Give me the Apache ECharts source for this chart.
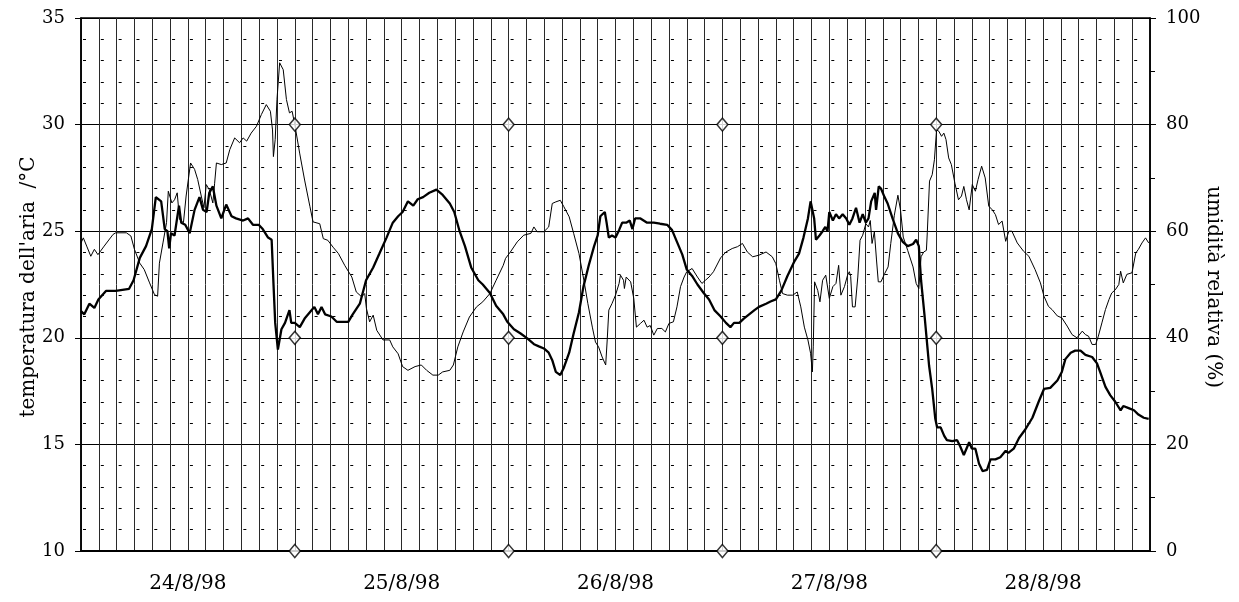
<!DOCTYPE html>
<html>
<head>
<meta charset="utf-8">
<script src="https://cdn.jsdelivr.net/npm/echarts@6/dist/echarts.min.js"></script>
<style>
html,body{margin:0;padding:0;background:#fff;}
#chart{width:1239px;height:602px;}
</style>
</head>
<body>
<div id="chart"></div>
<script>
// hours from 24/8/98 00:00
const dayLabels = ['24/8/98','25/8/98','26/8/98','27/8/98','28/8/98'];
const tempTicks = [10,15,20,25,30,35];
const humTicks = [0,20,40,60,80,100];
const leftTitle = "temperatura dell'aria  /°C";
const rightTitle = 'umidità relativa (%)';

const tempHours = [0,0.37,0.94,1.5,1.95,2.8,3.9,5.4,5.9,6.6,7.3,7.95,8.4,9.0,9.4,9.7,9.9,10.1,10.5,11.0,11.25,11.7,12.2,12.75,13.3,13.7,14.1,14.4,14.8,15.2,15.75,16.3,16.9,17.4,18.2,18.75,19.3,19.95,20.4,21.0,21.4,21.6,21.8,22.1,22.5,22.9,23.4,23.6,
24,24.56,25.1,25.9,26.2,26.6,27.0,27.4,28.1,28.7,29.4,30.0,30.5,31.3,32.0,32.8,33.5,34.3,35.0,35.6,36.1,36.7,37.3,37.8,38.4,39.1,39.9,40.6,41.4,41.9,42.5,43.1,43.8,44.6,45.1,45.9,46.6,47.4,
47.85,48.6,49.35,50.1,50.85,51.4,51.96,52.5,52.9,53.3,53.8,54.2,54.8,55.3,55.9,56.4,57.0,57.6,58.0,58.3,58.8,59.0,59.25,59.6,60.0,60.4,60.75,61.2,61.6,61.9,62.2,62.8,63.55,64.3,65.0,65.8,66.35,66.9,67.5,68.0,68.6,69.2,69.9,70.5,71.1,71.8,
72.4,72.9,73.3,73.9,74.4,75.0,75.6,76.1,76.9,77.4,78.0,78.6,79.3,80.1,80.6,81.1,81.6,81.9,82.1,82.3,82.5,82.9,83.25,83.55,83.8,84.0,84.4,84.75,85.1,85.5,85.9,86.25,86.6,87.0,87.4,87.75,88.1,88.4,88.7,89.1,89.25,89.55,89.8,90.2,90.55,91.1,91.7,92.25,92.8,93.4,93.75,94.05,94.3,94.7,95.05,95.2,95.55,95.9,
96.1,96.5,96.9,97.2,97.8,98.35,98.7,99.1,99.7,100.0,100.4,100.8,101.2,101.7,102.1,102.65,103.2,103.8,104.1,104.7,105.3,106.0,106.8,107.5,108.1,108.8,109.6,110.1,110.5,111.1,111.6,112.2,112.75,113.5,114.05,114.4,115.0,115.55,116.1,116.7,117.0,117.6,118.2,118.7,119.3,119.85];
const tempValues = [21.25,21.1,21.6,21.4,21.8,22.2,22.2,22.3,22.7,23.75,24.3,25.1,26.6,26.4,25.1,25.0,24.2,24.9,24.8,26.2,25.4,25.3,24.9,26.0,26.6,26.0,25.9,26.8,27.1,26.2,25.6,26.25,25.7,25.6,25.5,25.6,25.3,25.3,25.1,24.7,24.6,22.6,20.7,19.45,20.4,20.7,21.3,20.7,
20.7,20.5,20.9,21.3,21.45,21.1,21.45,21.1,21.0,20.75,20.75,20.75,21.1,21.6,22.7,23.3,23.95,24.7,25.4,25.7,25.9,26.4,26.2,26.5,26.6,26.8,26.95,26.7,26.3,25.9,25.0,24.3,23.3,22.7,22.5,22.1,21.5,21.1,
20.75,20.4,20.2,19.97,19.7,19.6,19.5,19.3,18.95,18.4,18.25,18.6,19.3,20.2,21.2,22.4,23.4,24.3,24.8,25.7,25.9,25.4,24.7,24.8,24.7,25.05,25.4,25.4,25.5,25.1,25.6,25.6,25.4,25.4,25.35,25.3,25.05,24.5,23.9,23.2,22.9,22.5,22.1,21.8,21.3,21.0,
20.7,20.5,20.7,20.7,20.9,21.1,21.3,21.45,21.6,21.7,21.8,22.2,22.9,23.6,23.95,24.7,25.6,26.4,26.45,25.6,24.6,24.8,25.0,25.2,25.0,25.9,25.5,25.8,25.6,25.8,25.6,25.3,25.6,26.1,25.4,25.8,25.4,25.6,26.4,26.8,26.0,27.1,27.0,26.6,26.3,25.6,24.9,24.5,24.3,24.4,24.6,24.3,22.7,21.0,19.4,18.7,17.6,16.2,
15.8,15.8,15.4,15.2,15.15,15.2,14.9,14.5,15.1,14.8,14.8,14.1,13.75,13.8,14.3,14.3,14.4,14.7,14.6,14.8,15.3,15.7,16.25,17.0,17.6,17.65,18.0,18.4,19.0,19.3,19.4,19.4,19.2,19.1,18.8,18.4,17.7,17.3,17.0,16.6,16.8,16.7,16.6,16.4,16.25,16.2];

const humHours = [0,0.26,0.64,1.1,1.5,1.9,2.6,3.6,3.9,5.1,5.6,6.0,6.6,7.1,7.7,8.25,8.6,8.8,9.2,9.6,9.8,10.2,10.5,10.8,11.06,11.5,11.8,12.3,12.75,13.1,13.5,13.8,14.06,14.4,14.8,15.0,15.2,15.75,16.3,16.7,17.25,17.8,18.2,18.6,19.1,19.7,20.25,20.8,21.26,21.5,21.6,21.8,22.0,22.3,22.7,23.06,23.4,23.7,24.0,
24.56,25.1,25.7,26.05,26.8,27.2,27.7,28.3,28.9,29.6,30.4,30.9,31.5,31.85,32.04,32.4,32.8,33.2,33.9,34.65,35.0,35.6,36.1,36.7,37.5,38.2,38.8,39.5,40.1,40.6,41.4,41.8,42.3,42.9,43.6,44.4,45.1,45.9,46.6,47.4,
47.66,48.2,48.97,49.7,50.5,50.84,51.2,51.96,52.5,52.9,53.3,53.8,54.2,54.8,55.3,55.9,56.45,56.9,57.4,57.75,58.1,58.5,58.9,59.07,59.25,59.6,60.0,60.4,60.56,60.9,61.0,61.2,61.7,62.05,62.35,62.8,63.2,63.55,63.9,64.3,64.7,65.2,65.6,66.0,66.5,66.9,67.3,67.7,68.0,68.6,69.2,69.7,70.1,70.5,71.0,71.8,
72.4,73.1,73.7,74.25,74.8,75.4,76.1,76.9,77.6,78.0,78.4,78.75,79.3,79.9,80.4,80.8,81.2,81.6,81.9,82.1,82.2,82.35,82.7,82.95,83.25,83.6,84.0,84.4,84.75,85.05,85.3,85.7,86.05,86.25,86.4,86.6,86.9,87.2,87.45,87.75,88.1,88.4,88.6,88.8,89.06,89.3,89.5,89.8,90.2,90.6,90.9,91.3,91.7,92.0,92.3,92.8,93.4,93.75,94.05,94.3,94.6,94.9,95.0,95.25,95.55,95.8,
96.04,96.3,96.6,96.86,97.1,97.4,97.7,98.1,98.5,98.84,99.1,99.4,99.7,100.05,100.4,100.7,101.1,101.5,101.9,102.3,102.65,103.0,103.4,103.8,104.15,104.5,105.1,105.8,106.4,107.1,107.7,108.1,108.6,109.0,109.6,110.1,110.7,111.25,111.8,112.4,112.75,113.1,113.5,113.9,114.2,114.6,115.0,115.4,115.7,116.1,116.5,116.7,117.0,117.4,117.98,118.4,118.7,119.1,119.5,119.85];
const humValues = [57.8,58.75,57.2,55.3,56.6,55.6,57.2,59.4,59.7,59.7,59.1,56.6,54.0,52.8,50.3,48.1,47.8,54.0,57.8,61.6,67.5,65.3,65.9,67.2,62.2,61.6,66.6,72.8,71.6,69.7,66.6,64.4,68.75,67.8,65.3,69.0,72.8,72.5,72.8,75.3,77.5,76.6,77.5,76.9,78.4,79.7,81.9,83.75,82.5,79.0,74.0,77.2,84.7,91.6,90.3,84.7,82.2,82.5,80.0,
74.5,69.6,64.6,61.75,61.4,58.6,58.3,57.0,55.8,53.6,51.4,48.6,47.7,48.3,45.5,43.0,44.25,41.4,39.6,39.6,38.3,37.0,34.6,33.9,34.6,34.9,33.9,33.0,33.0,33.6,33.9,34.9,38.3,41.1,43.9,45.8,46.75,48.3,50.8,53.6,
54.9,56.1,58.0,59.25,59.6,60.8,59.9,59.9,60.8,65.2,65.5,65.8,64.6,62.7,59.6,55.8,50.8,46.4,42.0,39.2,38.3,36.4,34.9,39.6,45.2,46.4,48.0,50.2,51.75,50.8,49.25,51.4,50.5,47.4,42.0,42.7,43.3,42.0,42.3,40.5,41.75,41.75,41.1,42.7,43.0,45.8,49.6,51.4,52.4,53.0,51.4,50.2,50.8,51.4,52.4,55.0,
56.1,56.75,57.1,57.7,56.1,55.2,55.5,56.1,55.2,53.9,50.8,48.3,48.0,48.0,48.6,45.8,42.0,39.6,37.1,33.6,38.3,50.5,48.9,46.75,50.8,51.75,47.4,49.6,50.2,53.6,48.0,49.6,51.75,52.4,51.5,45.8,45.8,51.4,58.3,59.25,61.4,60.8,62.0,57.7,59.9,54.6,50.5,50.5,52.0,53.3,57.7,63.0,66.75,63.9,58.9,56.4,53.3,50.2,49.25,55.2,56.1,56.4,59.7,69.4,70.6,73.4,
79.0,78.75,77.8,78.4,77.2,73.75,72.5,69.0,65.9,66.6,68.4,65.9,64.0,68.75,67.5,69.7,72.2,70.0,64.7,64.0,63.1,61.25,61.9,58.1,60.0,60.0,57.8,56.25,55.3,52.8,50.3,47.8,45.9,45.3,44.1,43.75,42.2,40.6,40.0,41.25,40.6,40.3,38.75,38.75,40.3,42.8,45.3,47.2,48.4,49.0,50.0,52.5,50.3,51.9,52.2,55.9,56.6,57.8,58.75,57.8];

const markerHours = [24,48,72,96];
const markerTemps = [10,20,30];

const tempData = tempHours.map((h,i)=>[h,tempValues[i]]);
const humData = humHours.map((h,i)=>[h,humValues[i]]);
const markerData = [];
markerHours.forEach(h=>markerTemps.forEach(t=>markerData.push([h,t])));

const FONT = 'DejaVu Serif';
const chart = echarts.init(document.getElementById('chart'), null, {renderer:'canvas'});
const gridLeft = 81, gridRight = 89;
const period = (1239 - gridLeft - gridRight) / 60;

chart.setOption({
  animation:false,
  backgroundColor:'#fff',
  grid:{left:gridLeft,right:gridRight,top:18,bottom:51,show:true,borderColor:'#000',borderWidth:1.5,backgroundColor:'transparent'},
  graphic:[
    {type:'text',x:29,y:287,rotation:Math.PI/2,
     style:{text:leftTitle,fill:'#000',font:'20px "DejaVu Serif"',textAlign:'center',textVerticalAlign:'middle'}},
    {type:'text',x:1213,y:287,rotation:-Math.PI/2,
     style:{text:rightTitle,fill:'#000',font:'20px "DejaVu Serif"',textAlign:'center',textVerticalAlign:'middle'}}
  ],
  xAxis:{
    type:'value',min:0,max:120,interval:2,
    axisLine:{show:true,lineStyle:{color:'#000',width:2}},
    axisTick:{show:false},
    axisLabel:{
      margin:23,color:'#000',fontFamily:FONT,fontSize:20,
      formatter:v=>{ if(v%24===12){return dayLabels[(v-12)/24];} return ''; }
    },
    splitLine:{show:true,lineStyle:{color:'#2a2a2a',width:1}}
  },
  yAxis:[{
    type:'value',min:tempTicks[0],max:tempTicks[tempTicks.length-1],interval:5,
    axisLine:{show:true,lineStyle:{color:'#000',width:1.5}},
    axisTick:{show:true,length:6,lineStyle:{color:'#000'}},
    axisLabel:{margin:16,color:'#000',fontFamily:FONT,fontSize:18},
    splitLine:{show:true,lineStyle:{color:'#000',width:1}},
    minorTick:{show:false,splitNumber:5},
    minorSplitLine:{show:true,lineStyle:{color:'#000',width:1,type:[3,period-3],dashOffset:-2}}
  },{
    type:'value',min:humTicks[0],max:humTicks[humTicks.length-1],interval:20,position:'right',
    axisLine:{show:true,lineStyle:{color:'#000',width:1.5}},
    axisTick:{show:true,length:6,lineStyle:{color:'#000'}},
    minorTick:{show:true,splitNumber:2,length:5,lineStyle:{color:'#000'}},
    axisLabel:{margin:16,color:'#000',fontFamily:FONT,fontSize:18},
    splitLine:{show:false}
  }],
  series:[
    {type:'line',name:'umidità',yAxisIndex:1,data:humData,showSymbol:false,symbol:'none',
     lineStyle:{color:'#000',width:1},z:3},
    {type:'line',name:'temperatura',yAxisIndex:0,data:tempData,showSymbol:false,symbol:'none',
     lineStyle:{color:'#000',width:2.3},z:4},
    {type:'scatter',yAxisIndex:0,data:markerData,symbol:'diamond',symbolSize:[11,13],clip:false,
     itemStyle:{color:'#fff',borderColor:'#000',borderWidth:1.5},z:10}
  ]
});
</script>
</body>
</html>
